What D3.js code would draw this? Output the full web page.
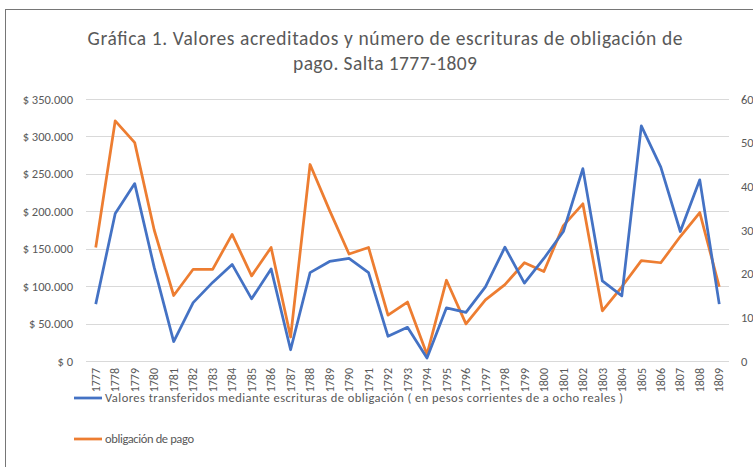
<!DOCTYPE html>
<html>
<head>
<meta charset="utf-8">
<script src="https://cdnjs.cloudflare.com/ajax/libs/d3/7.8.5/d3.min.js"></script>
<style>
body { margin: 0; background: #fff; }
text { font-family: Carlito, Calibri, Lato, "Open Sans", sans-serif; fill: #595959; }
</style>
</head>
<body>
<div id="chart"></div>
<script>
// data
var years = ["1777","1778","1779","1780","1781","1782","1783","1784","1785","1786","1787",
  "1788","1789","1790","1791","1792","1793","1794","1795","1796","1797","1798","1799",
  "1800","1801","1802","1803","1804","1805","1806","1807","1808","1809"];

var valores = [76000, 197000, 237000, 125000, 26000, 78000, 105000, 129000, 83000, 123000, 15000,
  118000, 133000, 137000, 118000, 33000, 45000, 4000, 71000, 65000, 99000, 152000, 104000,
  137000, 173000, 257000, 107000, 87000, 314000, 259000, 173000, 242000, 76000];

var obligaciones = [26, 55, 50, 30, 15, 21, 21, 29, 19.5, 26, 5.5,
  45, 34.5, 24.5, 26, 10.5, 13.5, 1.5, 18.5, 8.5, 14, 17.5, 22.5,
  20.5, 31, 36, 11.5, 17, 23, 22.5, 28.5, 34, 17];

var leftTicks = [0, 50000, 100000, 150000, 200000, 250000, 300000, 350000];
var rightTicks = [0, 10, 20, 30, 40, 50, 60];

var titleLines = ["Gráfica 1. Valores acreditados y número de escrituras de obligación de",
  "pago. Salta 1777-1809"];
var seriesNames = ["Valores transferidos mediante escrituras de obligación ( en pesos corrientes de a ocho reales )",
  "obligación de pago"];
var colors = ["#4472C4", "#ED7D31"];

var W = 753, H = 467;
var margin = {top: 99, right: 24, bottom: 106, left: 86};
var width = W - margin.left - margin.right,
    height = H - margin.top - margin.bottom;

// text widths measured on the reference (Calibri is wider than what we have)
var titleWidths = [595, 184];
var legendWidths = [518, 89];

var svg = d3.select("#chart").append("svg")
  .attr("width", W).attr("height", H);

// outer frame
svg.append("rect")
  .attr("x", 5.5).attr("y", 9.5)
  .attr("width", W + 20).attr("height", H + 20)
  .attr("fill", "none").attr("stroke", "#767676").attr("stroke-width", 1);

// title
svg.append("g").selectAll("text")
  .data(titleLines).enter().append("text")
  .attr("x", 385)
  .attr("y", function (d, i) { return 45 + i * 25; })
  .attr("text-anchor", "middle")
  .attr("textLength", function (d, i) { return titleWidths[i]; })
  .attr("lengthAdjust", "spacing")
  .style("font-size", "19.5px")
  .text(function (d) { return d; });

var g = svg.append("g")
  .attr("transform", "translate(" + margin.left + "," + margin.top + ")");

var x = d3.scaleBand().domain(years).range([0, width]);
var yL = d3.scaleLinear().domain([0, 350000]).range([height, 0]);
var yR = d3.scaleLinear().domain([0, 60]).range([height, 0]);

// gridlines
g.append("g").selectAll("line")
  .data(leftTicks).enter().append("line")
  .attr("x1", 0).attr("x2", width)
  .attr("y1", function (d) { return Math.round(yL(d)) + 0.5; })
  .attr("y2", function (d) { return Math.round(yL(d)) + 0.5; })
  .attr("stroke", "#d9d9d9").attr("stroke-width", 1);

// left axis
var fmt = function (d) {
  return "$ " + d3.format(",")(d).replace(/,/g, ".");
};
var axL = g.append("g")
  .attr("transform", "translate(-13,0)")
  .call(d3.axisLeft(yL).tickValues(leftTicks).tickFormat(fmt).tickSize(0).tickPadding(0));
axL.select(".domain").remove();
axL.selectAll("text").style("font-size", "12.5px").attr("fill", "#595959");

// right axis
var axR = g.append("g")
  .attr("transform", "translate(" + (width + 12) + ",0)")
  .call(d3.axisRight(yR).tickValues(rightTicks).tickSize(0).tickPadding(0));
axR.select(".domain").remove();
axR.selectAll("text").style("font-size", "12.5px").attr("fill", "#595959");

// x axis labels
var axX = g.append("g")
  .attr("transform", "translate(0," + height + ")")
  .call(d3.axisBottom(x).tickSize(0).tickPadding(0));
axX.select(".domain").remove();
axX.selectAll("text")
  .style("font-size", "12px").attr("fill", "#595959")
  .attr("text-anchor", "end")
  .attr("transform", "rotate(-90)")
  .attr("x", -7).attr("y", 0).attr("dy", "0.35em");

// lines
var lineL = d3.line()
  .x(function (d, i) { return x(years[i]) + x.bandwidth() / 2; })
  .y(function (d) { return yL(d); });
var lineR = d3.line()
  .x(function (d, i) { return x(years[i]) + x.bandwidth() / 2; })
  .y(function (d) { return yR(d); });

g.append("path").datum(obligaciones)
  .attr("d", lineR).attr("fill", "none")
  .attr("stroke", colors[1]).attr("stroke-width", 2.75).attr("stroke-linejoin", "round");

g.append("path").datum(valores)
  .attr("d", lineL).attr("fill", "none")
  .attr("stroke", colors[0]).attr("stroke-width", 2.75).attr("stroke-linejoin", "round");

// legend
var legend = svg.append("g").selectAll("g")
  .data(seriesNames).enter().append("g")
  .attr("transform", function (d, i) { return "translate(74," + (398 + i * 41) + ")"; });
legend.append("line")
  .attr("x1", 0).attr("x2", 28).attr("y1", 0).attr("y2", 0)
  .attr("stroke", function (d, i) { return colors[i]; }).attr("stroke-width", 2.75);
legend.append("text")
  .attr("x", 31).attr("y", 0).attr("dy", "0.35em")
  .attr("textLength", function (d, i) { return legendWidths[i]; })
  .attr("lengthAdjust", "spacing")
  .style("font-size", "12.5px")
  .text(function (d) { return d; });
</script>
</body>
</html>
